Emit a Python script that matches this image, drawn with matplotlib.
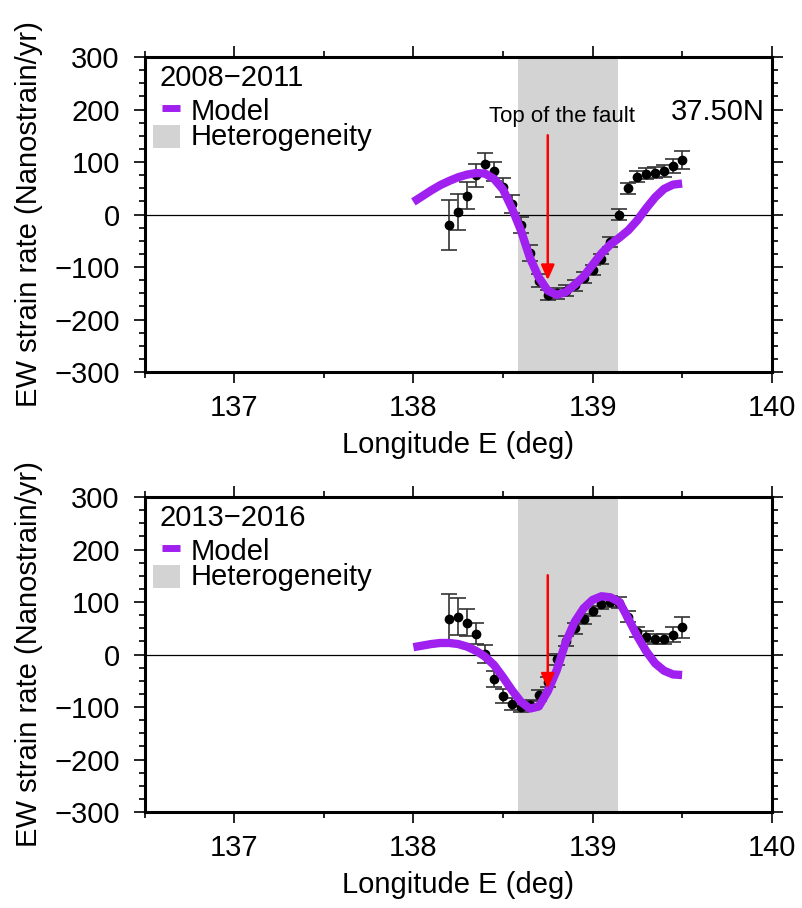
import matplotlib
matplotlib.use("Agg")
import matplotlib.pyplot as plt
from matplotlib.ticker import MultipleLocator
from matplotlib.patches import Rectangle
from matplotlib.lines import Line2D

plt.rcParams['font.family'] = ['Liberation Sans', 'DejaVu Sans']

# ---------------- data ----------------
obs_lon = [138.20, 138.25, 138.30, 138.35, 138.40, 138.45, 138.50, 138.55, 138.60,
           138.65, 138.70, 138.75, 138.80, 138.85, 138.90, 138.95, 139.00, 139.05,
           139.10, 139.15, 139.20, 139.25, 139.30, 139.35, 139.40, 139.45, 139.50]

obs_2008 = [-20, 5, 36, 75, 97, 82, 52, 20, -20,
            -73, -126, -153, -150, -145, -135, -120, -106, -85,
            -52, 0, 50, 72, 78, 80, 83, 93, 104]
err_2008 = [47, 35, 25, 22, 20, 18, 18, 17, 15,
            15, 13, 10, 10, 10, 10, 10, 10, 10,
            10, 10, 10, 10, 10, 10, 12, 13, 17]

obs_2013 = [68, 72, 61, 40, 1, -47, -79, -94, -99,
            -96, -78, -52, -9, 26, 50, 68, 83, 96,
            101, 99, 72, 43, 34, 30, 30, 38, 52]
err_2013 = [47, 35, 26, 20, 18, 15, 13, 12, 10,
            10, 10, 10, 10, 10, 10, 10, 10, 10,
            10, 10, 10, 10, 10, 10, 10, 14, 20]

model_lon = [138.00, 138.05, 138.10, 138.15, 138.20, 138.25, 138.30, 138.35, 138.40,
             138.45, 138.50, 138.55, 138.60, 138.65, 138.70, 138.75, 138.80, 138.85,
             138.90, 138.95, 139.00, 139.05, 139.10, 139.15, 139.20, 139.25, 139.30,
             139.35, 139.40, 139.45, 139.50]
model_2008 = [24, 35, 46, 56, 64, 71, 76, 79, 78,
              68, 48, 12, -30, -82, -120, -145, -153, -148,
              -134, -118, -96, -74, -57, -44, -30, -11, 12,
              33, 49, 57, 59]
model_2013 = [14, 17, 20, 22, 22, 20, 15, 7, -4,
              -20, -43, -68, -90, -103, -99, -70, -30, 23,
              62, 88, 104, 111, 109, 100, 68, 35, 6,
              -17, -31, -38, -39]

hetero = [138.585, 139.14]
fault_lon = 138.75
arrow_top = [151, 151]
arrow_tip = [-125, -65]
periods = ["2008\u22122011", "2013\u22122016"]
legend_labels = ["Model", "Heterogeneity"]
obs_sets = [(obs_2008, err_2008, model_2008), (obs_2013, err_2013, model_2013)]

PURPLE = '#a020f0'
GRAY = '#d3d3d3'

fig = plt.figure(figsize=(8.02, 9.08), dpi=100)
positions = [[0.1804, 0.5903, 0.7818, 0.3469], [0.1804, 0.1057, 0.7818, 0.3469]]

for i, pos in enumerate(positions):
    ax = fig.add_axes(pos)
    obs, err, model = obs_sets[i]
    ax.axvspan(hetero[0], hetero[1], color=GRAY, lw=0, zorder=0)
    ax.axhline(0, color='black', lw=0.9, zorder=1)
    ax.errorbar(obs_lon, obs, yerr=err, fmt='o', color='black', ms=6,
                ecolor='#333333', elinewidth=1.2, capsize=5.5, capthick=1.2, zorder=2)
    ax.plot(model_lon, model, color=PURPLE, lw=6, solid_capstyle='butt', zorder=3)
    ax.annotate('', xy=(fault_lon, arrow_tip[i]), xytext=(fault_lon, arrow_top[i]),
                arrowprops=dict(arrowstyle='-|>,head_length=0.45,head_width=0.2',
                                color='red', lw=1.8, mutation_scale=20,
                                shrinkA=0, shrinkB=0), zorder=5)
    if i == 0:
        ax.text(138.83, 177, "Top of the fault", ha='center', va='baseline', fontsize=16)
        ax.text(0.989, 0.80, "37.50N", transform=ax.transAxes, ha='right',
                va='baseline', fontsize=21)

    # legend-like annotation
    ax.text(0.024, 0.908, periods[i], transform=ax.transAxes, ha='left',
            va='baseline', fontsize=21)
    ax.add_line(Line2D([0.027, 0.056], [0.838, 0.838], transform=ax.transAxes,
                       color=PURPLE, lw=5, solid_capstyle='butt'))
    ax.add_patch(Rectangle((0.0133, 0.711), 0.043, 0.073, transform=ax.transAxes,
                           facecolor=GRAY, edgecolor='none'))
    ax.text(0.073, 0.72, "\n".join(legend_labels), transform=ax.transAxes,
            ha='left', va='baseline', fontsize=21, linespacing=0.89,
            multialignment='left')

    ax.set_xlim(136.5, 140)
    ax.set_ylim(-300, 300)
    ax.set_xticks([137, 138, 139, 140])
    ax.xaxis.set_minor_locator(MultipleLocator(0.5))
    ax.set_yticks([-300, -200, -100, 0, 100, 200, 300])
    ax.yaxis.set_minor_locator(MultipleLocator(25))
    ax.tick_params(which='both', direction='out', top=True, right=True,
                   width=1.2, labelsize=21)
    ax.tick_params(which='major', length=8)
    ax.tick_params(which='minor', length=4)
    ax.tick_params(axis='y', which='major', pad=10)
    ax.tick_params(axis='x', which='major', pad=8)
    for s in ax.spines.values():
        s.set_linewidth(2.2)
    ax.set_xlabel("Longitude E (deg)", fontsize=21, labelpad=6)
    ax.set_ylabel("EW strain rate (Nanostrain/yr)", fontsize=21, labelpad=8)

fig.savefig("out.png", dpi=100)
